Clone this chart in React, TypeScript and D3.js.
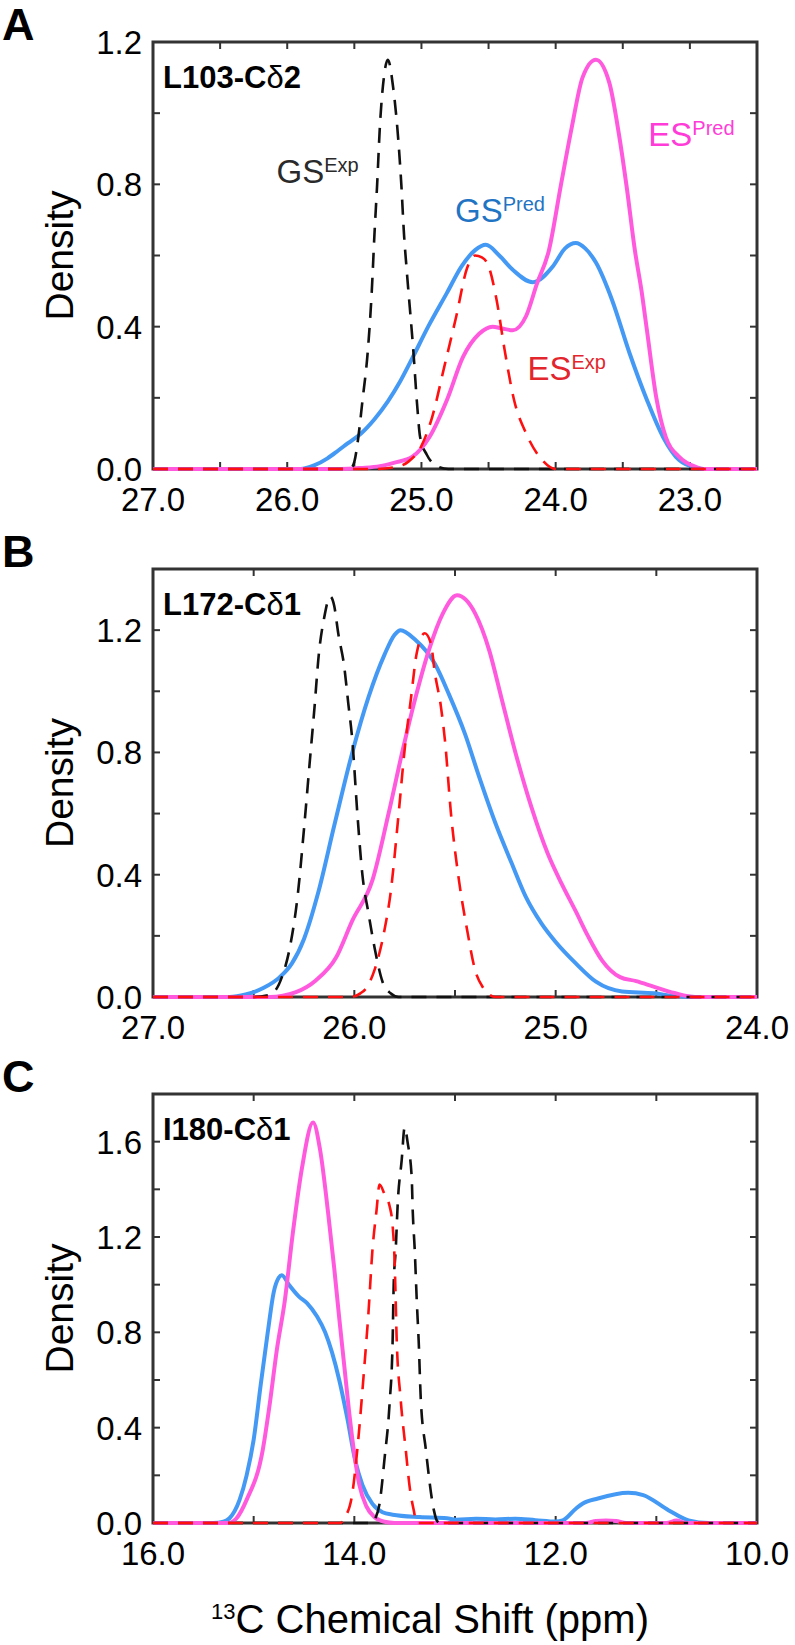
import React from 'react';
import * as d3 from 'd3';

type Pt = [number, number];

// ---- panel A: L103-Cδ2 ----
const aXTicks = [27, 26.5, 26, 25.5, 25, 24.5, 24, 23.5, 23, 22.5];
const aXLabels = [27, 26, 25, 24, 23];
const aYTicks = [0, 0.2, 0.4, 0.6, 0.8, 1.0, 1.2];
const aYLabels = [0, 0.4, 0.8, 1.2];

const aGsExp: Pt[] = [
  [27, 0], [25.6, 0], [25.52, 0.005], [25.5, 0.02], [25.47, 0.09], [25.44, 0.19], [25.4, 0.33],
  [25.37, 0.5], [25.35, 0.66], [25.33, 0.8], [25.31, 0.96], [25.28, 1.1], [25.25, 1.15],
  [25.21, 1.07], [25.18, 0.96], [25.15, 0.8], [25.13, 0.66], [25.11, 0.56], [25.06, 0.33],
  [25.03, 0.17], [25.01, 0.09], [24.96, 0.04], [24.9, 0.012], [24.8, 0], [22.5, 0],
];
const aEsExp: Pt[] = [
  [27, 0], [25.35, 0], [25.2, 0.005], [25.1, 0.02], [25.0, 0.065], [24.92, 0.146], [24.83, 0.287],
  [24.74, 0.43], [24.66, 0.565], [24.6, 0.6], [24.55, 0.595], [24.5, 0.57], [24.44, 0.475],
  [24.38, 0.334], [24.31, 0.194], [24.22, 0.1], [24.1, 0.025], [24.0, 0], [22.5, 0],
];
const aGsPred: Pt[] = [
  [27, 0], [25.9, 0], [25.8, 0.01], [25.7, 0.03], [25.62, 0.052], [25.55, 0.072], [25.45, 0.1],
  [25.35, 0.14], [25.25, 0.19], [25.16, 0.245], [25.07, 0.31], [24.95, 0.4], [24.81, 0.495],
  [24.7, 0.57], [24.6, 0.615], [24.52, 0.63], [24.42, 0.6], [24.32, 0.56], [24.17, 0.525],
  [24.02, 0.57], [23.93, 0.62], [23.85, 0.635], [23.78, 0.62], [23.7, 0.58], [23.58, 0.475],
  [23.45, 0.326], [23.32, 0.194], [23.2, 0.09], [23.08, 0.025], [22.95, 0.003], [22.9, 0], [22.5, 0],
];
const aEsPred: Pt[] = [
  [27, 0], [25.6, 0], [25.45, 0.003], [25.31, 0.008], [25.2, 0.018], [25.07, 0.034], [24.94, 0.09],
  [24.81, 0.194], [24.69, 0.315], [24.57, 0.38], [24.47, 0.4], [24.4, 0.395], [24.32, 0.39],
  [24.22, 0.43], [24.14, 0.52], [24.05, 0.615], [23.96, 0.8], [23.88, 0.96], [23.8, 1.1],
  [23.7, 1.15], [23.6, 1.085], [23.53, 0.944], [23.47, 0.79], [23.41, 0.615], [23.36, 0.5],
  [23.32, 0.39], [23.25, 0.2], [23.18, 0.09], [23.08, 0.034], [22.95, 0.005], [22.9, 0], [22.5, 0],
];

// ---- panel B: L172-Cδ1 ----
const bXTicks = [27, 26.5, 26, 25.5, 25, 24.5, 24];
const bXLabels = [27, 26, 25, 24];
const bYTicks = [0, 0.2, 0.4, 0.6, 0.8, 1.0, 1.2, 1.4];
const bYLabels = [0, 0.4, 0.8, 1.2];

const bGsExp: Pt[] = [
  [27, 0], [26.5, 0], [26.42, 0.007], [26.36, 0.065], [26.32, 0.163], [26.28, 0.34], [26.25, 0.55],
  [26.22, 0.78], [26.2, 0.93], [26.175, 1.13], [26.15, 1.24], [26.12, 1.31], [26.1, 1.28],
  [26.08, 1.19], [26.05, 1.08], [26.03, 0.96], [26.01, 0.84], [25.985, 0.6], [25.96, 0.4],
  [25.93, 0.275], [25.9, 0.163], [25.86, 0.05], [25.82, 0.012], [25.78, 0], [24, 0],
];
const bEsExp: Pt[] = [
  [27, 0], [26.02, 0], [25.97, 0.012], [25.94, 0.03], [25.9, 0.088], [25.85, 0.22], [25.82, 0.34],
  [25.78, 0.6], [25.75, 0.81], [25.72, 0.97], [25.69, 1.125], [25.65, 1.19], [25.62, 1.157],
  [25.6, 1.06], [25.57, 0.95], [25.55, 0.84], [25.52, 0.6], [25.48, 0.38], [25.44, 0.22],
  [25.4, 0.088], [25.36, 0.03], [25.33, 0.008], [25.3, 0], [24, 0],
];
const bGsPred: Pt[] = [
  [27, 0], [26.62, 0], [26.54, 0.008], [26.45, 0.03], [26.37, 0.065], [26.31, 0.11], [26.25, 0.19],
  [26.18, 0.34], [26.1, 0.56], [26.01, 0.8], [25.93, 0.98], [25.85, 1.12], [25.8, 1.185],
  [25.77, 1.2], [25.7, 1.17], [25.6, 1.09], [25.53, 0.99], [25.45, 0.86], [25.38, 0.72],
  [25.3, 0.57], [25.22, 0.44], [25.15, 0.33], [25.07, 0.24], [25.0, 0.18], [24.9, 0.11],
  [24.8, 0.05], [24.67, 0.018], [24.51, 0.012], [24.41, 0.003], [24.3, 0], [24, 0],
];
const bEsPred: Pt[] = [
  [27, 0], [26.42, 0], [26.29, 0.016], [26.19, 0.055], [26.09, 0.13], [26.01, 0.25], [25.91, 0.382],
  [25.83, 0.6], [25.76, 0.807], [25.7, 0.97], [25.63, 1.134], [25.56, 1.255], [25.49, 1.314],
  [25.4, 1.255], [25.33, 1.134], [25.27, 0.98], [25.2, 0.8], [25.12, 0.62], [25.04, 0.47],
  [24.97, 0.37], [24.9, 0.28], [24.84, 0.2], [24.77, 0.12], [24.68, 0.065], [24.6, 0.052],
  [24.51, 0.033], [24.41, 0.013], [24.31, 0], [24, 0],
];

// ---- panel C: I180-Cδ1 ----
const cXTicks = [16, 15, 14, 13, 12, 11, 10];
const cXLabels = [16, 14, 12, 10];
const cYTicks = [0, 0.2, 0.4, 0.6, 0.8, 1.0, 1.2, 1.4, 1.6, 1.8];
const cYLabels = [0, 0.4, 0.8, 1.2, 1.6];

const cGsExp: Pt[] = [
  [16, 0], [13.83, 0], [13.79, 0.02], [13.75, 0.08], [13.7, 0.27], [13.65, 0.5], [13.62, 0.755],
  [13.609, 1.0], [13.589, 1.146], [13.569, 1.34], [13.53, 1.52], [13.5, 1.66], [13.47, 1.595],
  [13.43, 1.45], [13.42, 1.31], [13.4, 1.146], [13.38, 0.936], [13.36, 0.755], [13.34, 0.52],
  [13.29, 0.31], [13.21, 0.054], [13.18, 0.01], [13.15, 0], [10, 0],
];
const cEsExp: Pt[] = [
  [16, 0], [14.14, 0], [14.09, 0.025], [14.02, 0.124], [13.97, 0.31], [13.9, 0.66], [13.86, 0.88],
  [13.82, 1.146], [13.78, 1.31], [13.75, 1.42], [13.7, 1.38], [13.65, 1.33], [13.62, 1.25],
  [13.6, 1.1], [13.59, 0.95], [13.58, 0.78], [13.54, 0.52], [13.49, 0.31], [13.45, 0.15],
  [13.41, 0.054], [13.38, 0], [10, 0],
];
const cGsPred: Pt[] = [
  [16, 0], [15.4, 0], [15.3, 0.006], [15.24, 0.02], [15.14, 0.097], [15.07, 0.2], [15.0, 0.35],
  [14.93, 0.58], [14.86, 0.8], [14.8, 0.97], [14.75, 1.03], [14.72, 1.04], [14.65, 1.0],
  [14.55, 0.95], [14.47, 0.923], [14.37, 0.866], [14.29, 0.8], [14.15, 0.6], [14.07, 0.44],
  [13.99, 0.26], [13.92, 0.16], [13.82, 0.08], [13.72, 0.045], [13.62, 0.035], [13.35, 0.025],
  [13.08, 0.02], [12.99, 0.014], [12.79, 0.018], [12.6, 0.015], [12.4, 0.018], [12.2, 0.012],
  [12.0, 0.006], [11.93, 0.011], [11.8, 0.06], [11.73, 0.082], [11.58, 0.103], [11.28, 0.127],
  [11.13, 0.117], [10.88, 0.054], [10.68, 0.011], [10.48, 0], [10, 0],
];
const cEsPred: Pt[] = [
  [16, 0], [15.25, 0], [15.17, 0.02], [15.07, 0.097], [14.91, 0.306], [14.84, 0.5], [14.77, 0.726],
  [14.69, 0.935], [14.61, 1.22], [14.52, 1.49], [14.41, 1.68], [14.34, 1.565], [14.26, 1.3],
  [14.2, 1.07], [14.15, 0.86], [14.1, 0.66], [14.05, 0.46], [14.0, 0.29], [13.95, 0.16],
  [13.88, 0.07], [13.8, 0.025], [13.7, 0.005], [13.6, 0], [11.7, 0], [11.6, 0.008], [11.5, 0.01],
  [11.4, 0.008], [11.3, 0], [10.9, 0], [10.8, 0.01], [10.7, 0], [10, 0],
];

const BLUE = '#4499f5';
const MAGENTA = '#ff5ade';
const RED = '#ff1010';
const BLACK = '#111111';
const AXIS = '#333333';
const FONT = '"Liberation Sans", Arial, Helvetica, sans-serif';

type Series = { data: Pt[]; color: string; dashed: boolean };
type Note = { x: number; y: number; main: string; sup: string; color: string };
type PanelSpec = {
  letter: string;
  name: string;
  digit: string;
  top: number;
  bottom: number;
  xDomain: [number, number];
  yMax: number;
  xTicks: number[];
  xLabels: number[];
  yTicks: number[];
  yLabels: number[];
  series: Series[];
  notes: Note[];
};

const mk = (gsPred: Pt[], esPred: Pt[], gsExp: Pt[], esExp: Pt[]): Series[] => [
  { data: gsPred, color: BLUE, dashed: false },
  { data: esPred, color: MAGENTA, dashed: false },
  { data: gsExp, color: BLACK, dashed: true },
  { data: esExp, color: RED, dashed: true },
];

const panels: PanelSpec[] = [
  {
    letter: 'A', name: 'L103-C', digit: '2', top: 42, bottom: 469, xDomain: [27, 22.5], yMax: 1.2,
    xTicks: aXTicks, xLabels: aXLabels, yTicks: aYTicks, yLabels: aYLabels,
    series: mk(aGsPred, aEsPred, aGsExp, aEsExp),
    notes: [
      { x: 26.08, y: 0.804, main: 'GS', sup: 'Exp', color: '#2a2a2a' },
      { x: 24.75, y: 0.694, main: 'GS', sup: 'Pred', color: '#1f74c4' },
      { x: 23.31, y: 0.908, main: 'ES', sup: 'Pred', color: '#ff3cd8' },
      { x: 24.21, y: 0.25, main: 'ES', sup: 'Exp', color: '#e3262d' },
    ],
  },
  {
    letter: 'B', name: 'L172-C', digit: '1', top: 569, bottom: 997, xDomain: [27, 24], yMax: 1.4,
    xTicks: bXTicks, xLabels: bXLabels, yTicks: bYTicks, yLabels: bYLabels,
    series: mk(bGsPred, bEsPred, bGsExp, bEsExp), notes: [],
  },
  {
    letter: 'C', name: 'I180-C', digit: '1', top: 1094, bottom: 1523, xDomain: [16, 10], yMax: 1.8,
    xTicks: cXTicks, xLabels: cXLabels, yTicks: cYTicks, yLabels: cYLabels,
    series: mk(cGsPred, cEsPred, cGsExp, cEsExp), notes: [],
  },
];

const LEFT = 153;
const RIGHT = 757;
const TICK = 7;

function Panel({ p }: { p: PanelSpec }) {
  const x = d3.scaleLinear().domain(p.xDomain).range([LEFT, RIGHT]);
  const y = d3.scaleLinear().domain([0, p.yMax]).range([p.bottom, p.top]);
  const line = d3
    .line<Pt>()
    .x(d => x(d[0]))
    .y(d => y(d[1]))
    .curve(d3.curveMonotoneX);
  const midY = (p.top + p.bottom) / 2;

  return (
    <g>
      <text x={2} y={p.top - 2} fontFamily={FONT} fontWeight="bold" fontSize={45} fill="#000">
        {p.letter}
      </text>
      <text
        transform={`translate(73,${midY}) rotate(-90)`}
        textAnchor="middle"
        fontFamily={FONT}
        fontSize={39}
        fill="#000"
      >
        Density
      </text>

      {/* ticks, inward on all four sides */}
      {p.xTicks.map(t => (
        <g key={'xt' + t} stroke={AXIS} strokeWidth={2}>
          <line x1={x(t)} x2={x(t)} y1={p.bottom} y2={p.bottom - TICK} />
          <line x1={x(t)} x2={x(t)} y1={p.top} y2={p.top + TICK} />
        </g>
      ))}
      {p.yTicks.map(t => (
        <g key={'yt' + t} stroke={AXIS} strokeWidth={2}>
          <line x1={LEFT} x2={LEFT + TICK} y1={y(t)} y2={y(t)} />
          <line x1={RIGHT} x2={RIGHT - TICK} y1={y(t)} y2={y(t)} />
        </g>
      ))}
      <rect
        x={LEFT}
        y={p.top}
        width={RIGHT - LEFT}
        height={p.bottom - p.top}
        fill="none"
        stroke={AXIS}
        strokeWidth={3}
      />

      {p.xLabels.map(t => (
        <text
          key={'xl' + t}
          x={x(t)}
          y={p.bottom + 42}
          textAnchor="middle"
          fontFamily={FONT}
          fontSize={33}
          fill="#000"
        >
          {d3.format('.1f')(t)}
        </text>
      ))}
      {p.yLabels.map(t => (
        <text
          key={'yl' + t}
          x={142}
          y={y(t)}
          dy="0.36em"
          textAnchor="end"
          fontFamily={FONT}
          fontSize={33}
          fill="#000"
        >
          {d3.format('.1f')(t)}
        </text>
      ))}

      {p.series.map((s, i) => (
        <path
          key={'s' + i}
          d={line(s.data) || ''}
          fill="none"
          stroke={s.color}
          strokeWidth={s.dashed ? 2.6 : 4}
          strokeDasharray={s.dashed ? '15,10' : undefined}
          strokeLinejoin="round"
        />
      ))}

      <text x={163} y={p.top + 46} fontFamily={FONT} fontSize={31} fill="#000">
        <tspan fontWeight="bold">{p.name}</tspan>
        <tspan>δ</tspan>
        <tspan fontWeight="bold">{p.digit}</tspan>
      </text>

      {p.notes.map((n, i) => (
        <text key={'n' + i} x={x(n.x)} y={y(n.y)} fontFamily={FONT} fontSize={33} fill={n.color}>
          {n.main}
          <tspan fontSize={20} dy={-11}>
            {n.sup}
          </tspan>
        </text>
      ))}
    </g>
  );
}

export default function App() {
  return (
    <svg
      width={795}
      height={1645}
      viewBox="0 0 795 1645"
      style={{ position: 'absolute', left: 0, top: 0, background: '#fff' }}
    >
      <rect width={795} height={1645} fill="#fff" />
      {panels.map(p => (
        <Panel key={p.letter} p={p} />
      ))}
      <text x={430} y={1633} textAnchor="middle" fontFamily={FONT} fontSize={40} fill="#000">
        <tspan fontSize={22} dy={-14}>
          13
        </tspan>
        <tspan dy={14}>C Chemical Shift (ppm)</tspan>
      </text>
    </svg>
  );
}
